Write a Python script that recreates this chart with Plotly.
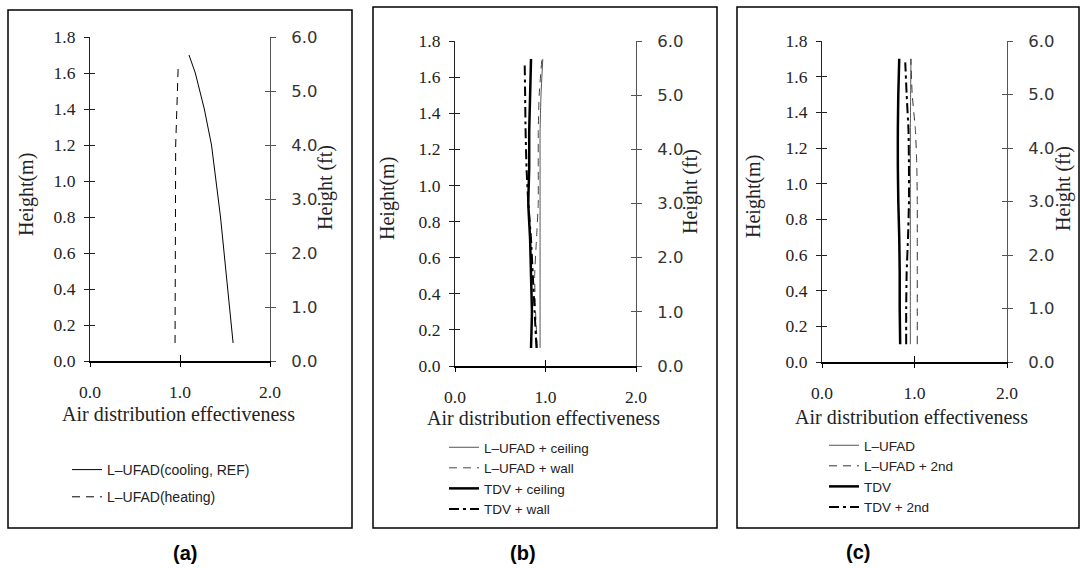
import plotly.graph_objects as go

W, H = 1080, 568

# ---------------- data ----------------
x_tick_vals = [0, 1, 2]
x_tick_text = ["0.0", "1.0", "2.0"]
m_tick_vals = [0.0, 0.2, 0.4, 0.6, 0.8, 1.0, 1.2, 1.4, 1.6, 1.8]
ft_tick_vals = [0, 1, 2, 3, 4, 5, 6]

# (a)
h_a_cool = [0.1, 0.4, 0.6, 0.8, 1.0, 1.2, 1.4, 1.6, 1.7]
ade_a_cool = [1.59, 1.53, 1.49, 1.45, 1.40, 1.35, 1.27, 1.17, 1.10]
h_a_heat = [0.1, 0.4, 0.8, 1.2, 1.4, 1.64]
ade_a_heat = [0.945, 0.945, 0.948, 0.952, 0.965, 0.98]

# (b)
h_b = [0.1, 0.3, 0.5, 0.7, 0.9, 1.1, 1.3, 1.5, 1.7]
ade_b_luf_ceiling = [0.94, 0.94, 0.94, 0.94, 0.94, 0.94, 0.94, 0.95, 0.97]
ade_b_luf_wall = [0.91, 0.89, 0.88, 0.90, 0.92, 0.92, 0.92, 0.93, 0.96]
ade_b_tdv_ceiling = [0.84, 0.85, 0.84, 0.83, 0.81, 0.82, 0.82, 0.83, 0.84]
h_b_tdv_wall = [0.1, 0.3, 0.5, 0.7, 0.9, 1.1, 1.3, 1.5, 1.68]
ade_b_tdv_wall = [0.90, 0.88, 0.86, 0.84, 0.81, 0.79, 0.78, 0.775, 0.77]

# (c)
h_c = [0.1, 0.3, 0.5, 0.7, 0.9, 1.1, 1.3, 1.5, 1.7]
ade_c_luf = [0.955, 0.955, 0.955, 0.955, 0.955, 0.955, 0.955, 0.958, 0.962]
ade_c_luf_2nd = [1.03, 1.03, 1.03, 1.03, 1.03, 1.025, 1.01, 0.975, 0.96]
ade_c_tdv = [0.845, 0.84, 0.84, 0.835, 0.825, 0.82, 0.82, 0.825, 0.835]
h_c_tdv_2nd = [0.1, 0.3, 0.5, 0.7, 0.9, 1.1, 1.3, 1.5, 1.68]
ade_c_tdv_2nd = [0.91, 0.91, 0.915, 0.93, 0.94, 0.94, 0.935, 0.915, 0.90]

x_title = "Air distribution effectiveness"
y_title_m = "Height(m)"
y_title_ft = "Height (ft)"
captions = ["(a)", "(b)", "(c)"]

# ---------------- helpers ----------------
def fx(p):
    return p / W

def fy(p):
    return 1 - p / H

SERIF = "Liberation Serif"
SANS = "Liberation Sans"
TXT = "#222222"

fig = go.Figure()

# panel geometry in pixels: (x_left, x_right, y_top, y_bottom)
panels = [
    (90, 270, 37, 361),
    (455, 636, 41, 366),
    (822, 1007, 41, 362),
]

def xid(n):
    return "x" if n == 1 else f"x{n}"

def yid(n):
    return "y" if n == 1 else f"y{n}"

def xkey(n):
    return "xaxis" if n == 1 else f"xaxis{n}"

def ykey(n):
    return "yaxis" if n == 1 else f"yaxis{n}"

layout = {}
for i, (xl, xr, yt, yb) in enumerate(panels):
    n_x = 2 * i + 1        # main x
    n_xi = 2 * i + 2       # inside-tick x
    n_y = 4 * i + 1        # left y
    n_yr = 4 * i + 2       # right y (ft)
    n_yi = 4 * i + 3       # left inside ticks
    n_yri = 4 * i + 4      # right inside ticks

    xdom = [fx(xl), fx(xr)]
    ydom = [fy(yb), fy(yt)]

    layout[xkey(n_x)] = dict(
        domain=xdom, anchor=yid(n_y), range=[0, 2],
        tickvals=x_tick_vals, ticktext=x_tick_text,
        ticks="outside", ticklen=4, tickwidth=1, tickcolor="black",
        showline=True, linecolor="black", linewidth=1.5,
        showgrid=False, zeroline=False, automargin=False,
        tickfont=dict(family=SERIF, size=17.5, color=TXT),
        ticklabelstandoff=10, fixedrange=True,
    )
    layout[xkey(n_xi)] = dict(
        overlaying=xid(n_x), anchor=yid(n_yi), range=[0, 2],
        tickvals=x_tick_vals, ticks="inside", ticklen=6, tickwidth=1,
        tickcolor="black", showticklabels=False, showline=False,
        showgrid=False, zeroline=False, fixedrange=True, automargin=False,
    )
    layout[ykey(n_y)] = dict(
        domain=ydom, anchor=xid(n_x), range=[0, 1.8],
        tickvals=m_tick_vals, tickformat=".1f",
        ticks="outside", ticklen=5, tickwidth=1, tickcolor="#222222",
        showline=True, linecolor="#222222", linewidth=1.2,
        showgrid=False, zeroline=False, automargin=False,
        tickfont=dict(family=SERIF, size=17.5, color=TXT),
        ticklabelstandoff=5, fixedrange=True,
    )
    layout[ykey(n_yr)] = dict(
        overlaying=yid(n_y), anchor=xid(n_x), side="right", range=[0, 6],
        tickvals=ft_tick_vals, tickformat=".1f",
        ticks="outside", ticklen=5, tickwidth=1, tickcolor="#555555",
        showline=True, linecolor="#555555", linewidth=1,
        showgrid=False, zeroline=False, automargin=False,
        tickfont=dict(family="DejaVu Sans", size=16.5, color="#333333"),
        ticklabelstandoff=12, fixedrange=True,
    )
    layout[ykey(n_yi)] = dict(
        overlaying=yid(n_y), anchor=xid(n_x), side="left", range=[0, 1.8],
        tickvals=m_tick_vals, ticks="inside", ticklen=5, tickwidth=1,
        tickcolor="#222222", showticklabels=False, showline=True,
        linecolor="#222222", linewidth=1.2,
        showgrid=False, zeroline=False, fixedrange=True, automargin=False,
    )
    layout[ykey(n_yri)] = dict(
        overlaying=yid(n_y), anchor=xid(n_x), side="right", range=[0, 6],
        tickvals=ft_tick_vals, ticks="inside", ticklen=5, tickwidth=1,
        tickcolor="#555555", showticklabels=False, showline=False,
        showgrid=False, zeroline=False, fixedrange=True, automargin=False,
    )
    # empty traces so that every overlay axis gets its own subplot drawn
    for xa, ya in [(xid(n_x), yid(n_yr)), (xid(n_x), yid(n_yi)),
                   (xid(n_x), yid(n_yri)), (xid(n_xi), yid(n_yi))]:
        fig.add_trace(go.Scatter(x=[], y=[], xaxis=xa, yaxis=ya, mode="lines",
                                 showlegend=False, hoverinfo="skip"))

def add_line(x, y, name, xa, ya, legend, color, width, dash, group, shape="linear"):
    fig.add_trace(go.Scatter(
        x=x, y=y, name=name, mode="lines", xaxis=xa, yaxis=ya,
        line=dict(color=color, width=width, dash=dash, shape=shape,
                  smoothing=0.4 if shape == "spline" else None),
        legend=legend, legendgroup=group, hoverinfo="skip",
    ))

DASH = "8px,6px"
DASHDOT = "10px,4px,3px,4px"

# (a)
add_line(ade_a_cool, h_a_cool, "L\u2013UFAD(cooling, REF)", "x", "y", "legend", "black", 1, "solid", "a1")
add_line(ade_a_heat, h_a_heat, "L\u2013UFAD(heating)", "x", "y", "legend", "black", 1, DASH, "a2")

# (b)
add_line(ade_b_luf_ceiling, h_b, "L\u2013UFAD + ceiling", "x3", "y5", "legend2", "#555555", 1, "solid", "b", "spline")
add_line(ade_b_luf_wall, h_b, "L\u2013UFAD + wall", "x3", "y5", "legend2", "#444444", 1, DASH, "b", "spline")
add_line(ade_b_tdv_ceiling, h_b, "TDV + ceiling", "x3", "y5", "legend2", "black", 2.5, "solid", "b", "spline")
add_line(ade_b_tdv_wall, h_b_tdv_wall, "TDV + wall", "x3", "y5", "legend2", "black", 2, DASHDOT, "b", "spline")

# (c)
add_line(ade_c_luf, h_c, "L\u2013UFAD", "x5", "y9", "legend3", "#555555", 1, "solid", "c", "spline")
add_line(ade_c_luf_2nd, h_c, "L\u2013UFAD + 2nd", "x5", "y9", "legend3", "#333333", 1, DASH, "c", "spline")
add_line(ade_c_tdv, h_c, "TDV", "x5", "y9", "legend3", "black", 2.5, "solid", "c", "spline")
add_line(ade_c_tdv_2nd, h_c_tdv_2nd, "TDV + 2nd", "x5", "y9", "legend3", "black", 2, DASHDOT, "c", "spline")

common_leg = dict(xanchor="left", yanchor="top", bgcolor="rgba(0,0,0,0)",
                  borderwidth=0, itemclick=False, itemdoubleclick=False)

layout["legend"] = dict(x=fx(67), y=fy(454), tracegroupgap=6, traceorder="grouped",
                        font=dict(family=SANS, size=14, color=TXT), **common_leg)
layout["legend2"] = dict(x=fx(444), y=fy(432), tracegroupgap=0, traceorder="normal",
                         font=dict(family=SANS, size=13.5, color=TXT), **common_leg)
layout["legend3"] = dict(x=fx(824), y=fy(430), tracegroupgap=0, traceorder="normal",
                         font=dict(family=SANS, size=13.5, color=TXT), **common_leg)

# boxes
boxes = [(8, 352, 10, 528), (373, 717, 7, 528), (737, 1079, 7, 528)]
shapes = []
for (x0, x1, y0, y1) in boxes:
    shapes.append(dict(type="rect", xref="paper", yref="paper",
                       x0=fx(x0), x1=fx(x1), y0=fy(y1), y1=fy(y0),
                       line=dict(color="black", width=1.5)))

# text annotations (titles, captions)
ann = []
title_font = dict(family=SERIF, size=20, color=TXT)
x_title_pos = [(178, 414), (543, 418), (911, 417)]
ym_pos = [(27, 195), (388, 199), (753, 197)]
yft_pos = [(325, 188), (690, 192), (1063, 189)]
cap_pos = [(185, 553), (523, 553), (858, 552)]
for i in range(3):
    ann.append(dict(text=x_title, x=fx(x_title_pos[i][0]), y=fy(x_title_pos[i][1]),
                    xref="paper", yref="paper", showarrow=False,
                    xanchor="center", yanchor="middle", font=title_font))
    ann.append(dict(text=y_title_m, x=fx(ym_pos[i][0]), y=fy(ym_pos[i][1]),
                    xref="paper", yref="paper", showarrow=False, textangle=-90,
                    xanchor="center", yanchor="middle", font=title_font))
    ann.append(dict(text=y_title_ft, x=fx(yft_pos[i][0]), y=fy(yft_pos[i][1]),
                    xref="paper", yref="paper", showarrow=False, textangle=-90,
                    xanchor="center", yanchor="middle", font=title_font))
    ann.append(dict(text="<b>" + captions[i] + "</b>", x=fx(cap_pos[i][0]), y=fy(cap_pos[i][1]),
                    xref="paper", yref="paper", showarrow=False,
                    xanchor="center", yanchor="middle",
                    font=dict(family=SANS, size=20, color="black")))

fig.update_layout(
    width=W, height=H,
    margin=dict(l=0, r=0, t=0, b=0, pad=0, autoexpand=False),
    paper_bgcolor="white", plot_bgcolor="rgba(0,0,0,0)",
    shapes=shapes, annotations=ann, showlegend=True,
    **layout,
)

fig.write_html("out.html", config={"displayModeBar": False})
